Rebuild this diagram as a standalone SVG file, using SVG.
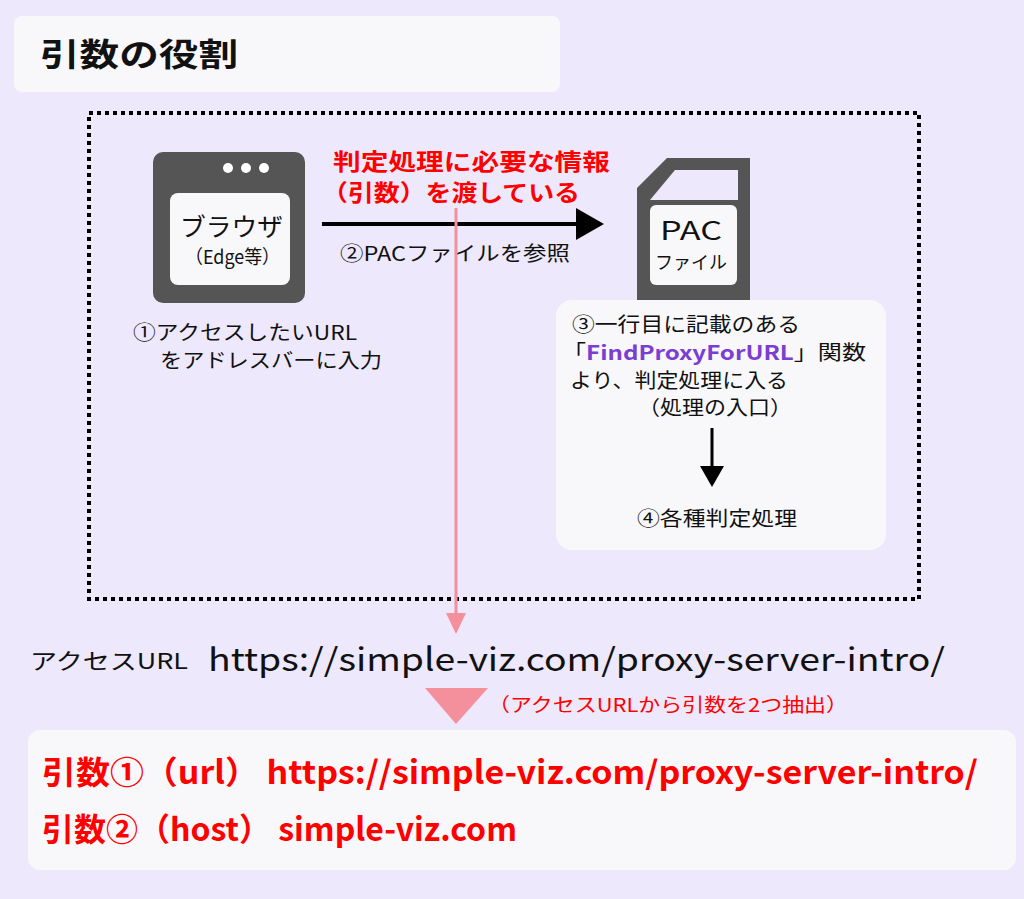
<svg xmlns="http://www.w3.org/2000/svg" width="1024" height="899" viewBox="0 0 1024 899">
<defs>
<style>
text{font-family:"Noto Sans CJK JP","Noto Sans",sans-serif;}
.b{font-weight:bold}
.r{fill:#ff0000}
</style>
<marker id="ah" markerWidth="8" markerHeight="8" refX="6" refY="4" orient="auto" markerUnits="strokeWidth"><path d="M0,0 L7,4 L0,8 Z" fill="#000"/></marker>
</defs>
<rect width="1024" height="899" fill="#ede8fb"/>
<g id="title"><rect x="14" y="16" width="546" height="76" rx="8" fill="#f8f8fb"/><text x="40" y="66" font-size="32" class="b" fill="#111" textLength="198" lengthAdjust="spacingAndGlyphs">引数の役割</text></g>
<rect x="89" y="113" width="830" height="486" fill="none" stroke="#000" stroke-width="4" stroke-dasharray="4,4"/>
<g id="browser">
<rect x="153" y="152" width="152" height="151" rx="10" fill="#555"/>
<rect x="170" y="193" width="120" height="92" rx="8" fill="#f8f8fb"/>
<circle cx="228" cy="168" r="5" fill="#fff"/><circle cx="246" cy="168" r="5" fill="#fff"/><circle cx="264" cy="168" r="5" fill="#fff"/>
<text x="180" y="236" font-size="25" fill="#111" textLength="103" lengthAdjust="spacingAndGlyphs">ブラウザ</text>
<text x="185" y="264" font-size="19" fill="#111" textLength="95" lengthAdjust="spacingAndGlyphs">（Edge等）</text>
<text x="133" y="340" font-size="20" fill="#111" textLength="224" lengthAdjust="spacingAndGlyphs">①アクセスしたいURL</text>
<text x="160" y="368" font-size="20" fill="#111" textLength="222" lengthAdjust="spacingAndGlyphs">をアドレスバーに入力</text>
</g>
<g id="pac">
<path d="M667,158 L750,158 L750,300 L637,300 L637,188 Z" fill="#555"/>
<path d="M675,170 L738,170 L738,200 L650,200 Z" fill="#ede8fb"/>
<rect x="650" y="205" width="87" height="80" rx="6" fill="#f8f8fb"/>
<text x="660" y="240" font-size="25" fill="#111" textLength="62" lengthAdjust="spacingAndGlyphs">PAC</text>
<text x="655" y="269" font-size="18" fill="#111" textLength="72" lengthAdjust="spacingAndGlyphs">ファイル</text>
</g>
<g id="proc">
<rect x="556" y="300" width="330" height="250" rx="16" fill="#f8f8fb"/>
<text x="572" y="332" font-size="20" fill="#111" textLength="228" lengthAdjust="spacingAndGlyphs">③一行目に記載のある</text>
<text x="562" y="360" font-size="20" fill="#111" textLength="304" lengthAdjust="spacingAndGlyphs">「<tspan fill="#7a3fd0" font-weight="bold">FindProxyForURL</tspan>」関数</text>
<text x="570" y="388" font-size="20" fill="#111" textLength="218" lengthAdjust="spacingAndGlyphs">より、判定処理に入る</text>
<text x="638" y="415" font-size="20" fill="#111" textLength="154" lengthAdjust="spacingAndGlyphs">（処理の入口）</text>
<text x="637" y="526" font-size="20" fill="#111" textLength="160" lengthAdjust="spacingAndGlyphs">④各種判定処理</text>
</g>
<g id="labels">
<text x="333" y="170" font-size="23" class="b r" textLength="277" lengthAdjust="spacingAndGlyphs">判定処理に必要な情報</text>
<text x="322" y="201" font-size="23" class="b r" textLength="258" lengthAdjust="spacingAndGlyphs">（引数）を渡している</text>
<text x="340" y="261" font-size="20" fill="#111" textLength="230" lengthAdjust="spacingAndGlyphs">②PACファイルを参照</text>
<text x="30" y="669" font-size="22" fill="#111" textLength="158" lengthAdjust="spacingAndGlyphs">アクセスURL</text>
<text x="208" y="671" font-size="32" fill="#111" textLength="737" lengthAdjust="spacingAndGlyphs">https://simple-viz.com/proxy-server-intro/</text>
<text x="488" y="712" font-size="19" class="r" textLength="360" lengthAdjust="spacingAndGlyphs">（アクセスURLから引数を2つ抽出）</text>
</g>
<g id="result">
<rect x="28" y="730" width="988" height="140" rx="12" fill="#f8f8fb"/>
<text x="42" y="784" font-size="32" class="b r" textLength="936" lengthAdjust="spacingAndGlyphs">引数①（url） https://simple-viz.com/proxy-server-intro/</text>
<text x="42" y="841" font-size="32" class="b r" textLength="475" lengthAdjust="spacingAndGlyphs">引数②（host） simple-viz.com</text>
</g>
<g id="connectors">
<line x1="322" y1="224" x2="600" y2="224" stroke="#000" stroke-width="4" marker-end="url(#ah)"/>
<line x1="712" y1="428" x2="712" y2="484" stroke="#000" stroke-width="3" marker-end="url(#ah)"/>
<line x1="456" y1="208" x2="456" y2="615" stroke="#f4909c" stroke-width="3"/>
<path d="M446,613 L466,613 L456,634 Z" fill="#f4909c"/>
<path d="M425,688 L488,688 L456,724 Z" fill="#f4909c"/>
</g>
</svg>
